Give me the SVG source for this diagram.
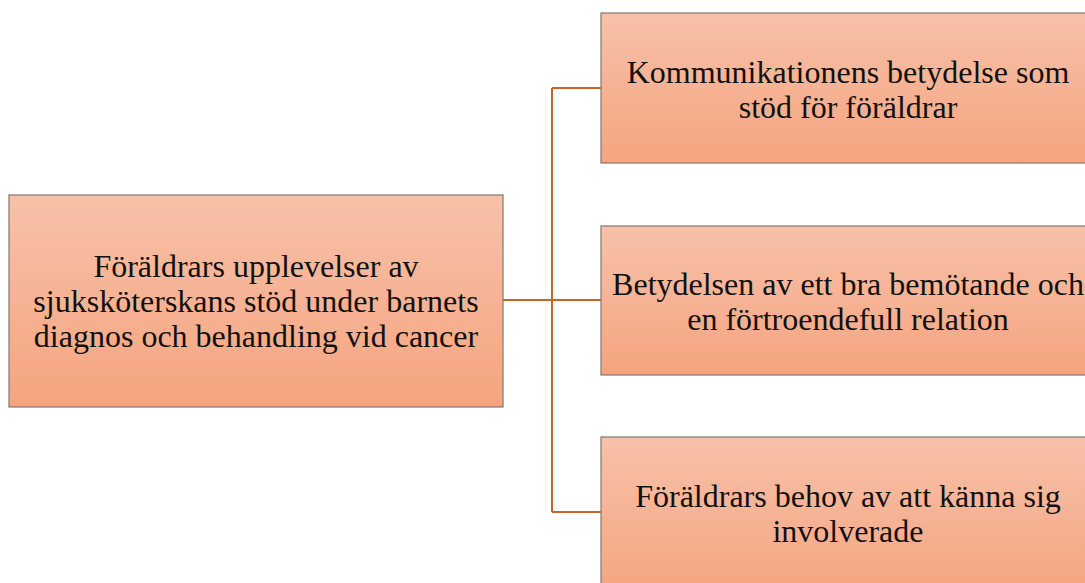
<svg xmlns="http://www.w3.org/2000/svg" width="1085" height="583" viewBox="0 0 1085 583">
<defs>
<linearGradient id="g" x1="0" y1="0" x2="0" y2="1">
<stop offset="0" stop-color="#F7C1A9"/>
<stop offset="1" stop-color="#F5A47F"/>
</linearGradient>
<style>
.box{fill:url(#g);stroke:#8C7F78;stroke-width:1.3}
.t{font-family:"Liberation Serif","Times New Roman",serif;font-size:32px;fill:#111;text-anchor:middle}
.c{fill:none;stroke:#C5652A;stroke-width:2}
</style>
</defs>
<rect width="1085" height="583" fill="#fff"/>
<g id="connectors">
<path class="c" d="M503 300 H552 M552 88 V512 M552 88 H601 M552 300 H601 M552 512 H601"/>
</g>
<g id="root">
<rect class="box" x="9" y="195" width="494" height="212"/>
<text class="t" x="256" y="277">Föräldrars upplevelser av</text>
<text class="t" x="256" y="312">sjuksköterskans stöd under barnets</text>
<text class="t" x="256" y="347">diagnos och behandling vid cancer</text>
</g>
<g id="n1">
<rect class="box" x="601" y="13" width="494" height="150"/>
<text class="t" x="848" y="83">Kommunikationens betydelse som</text>
<text class="t" x="848" y="118">stöd för föräldrar</text>
</g>
<g id="n2">
<rect class="box" x="601" y="226" width="494" height="149"/>
<text class="t" x="848" y="295">Betydelsen av ett bra bemötande och</text>
<text class="t" x="848" y="330">en förtroendefull relation</text>
</g>
<g id="n3">
<rect class="box" x="601" y="437" width="494" height="160"/>
<text class="t" x="848" y="507">Föräldrars behov av att känna sig</text>
<text class="t" x="848" y="542">involverade</text>
</g>
</svg>
